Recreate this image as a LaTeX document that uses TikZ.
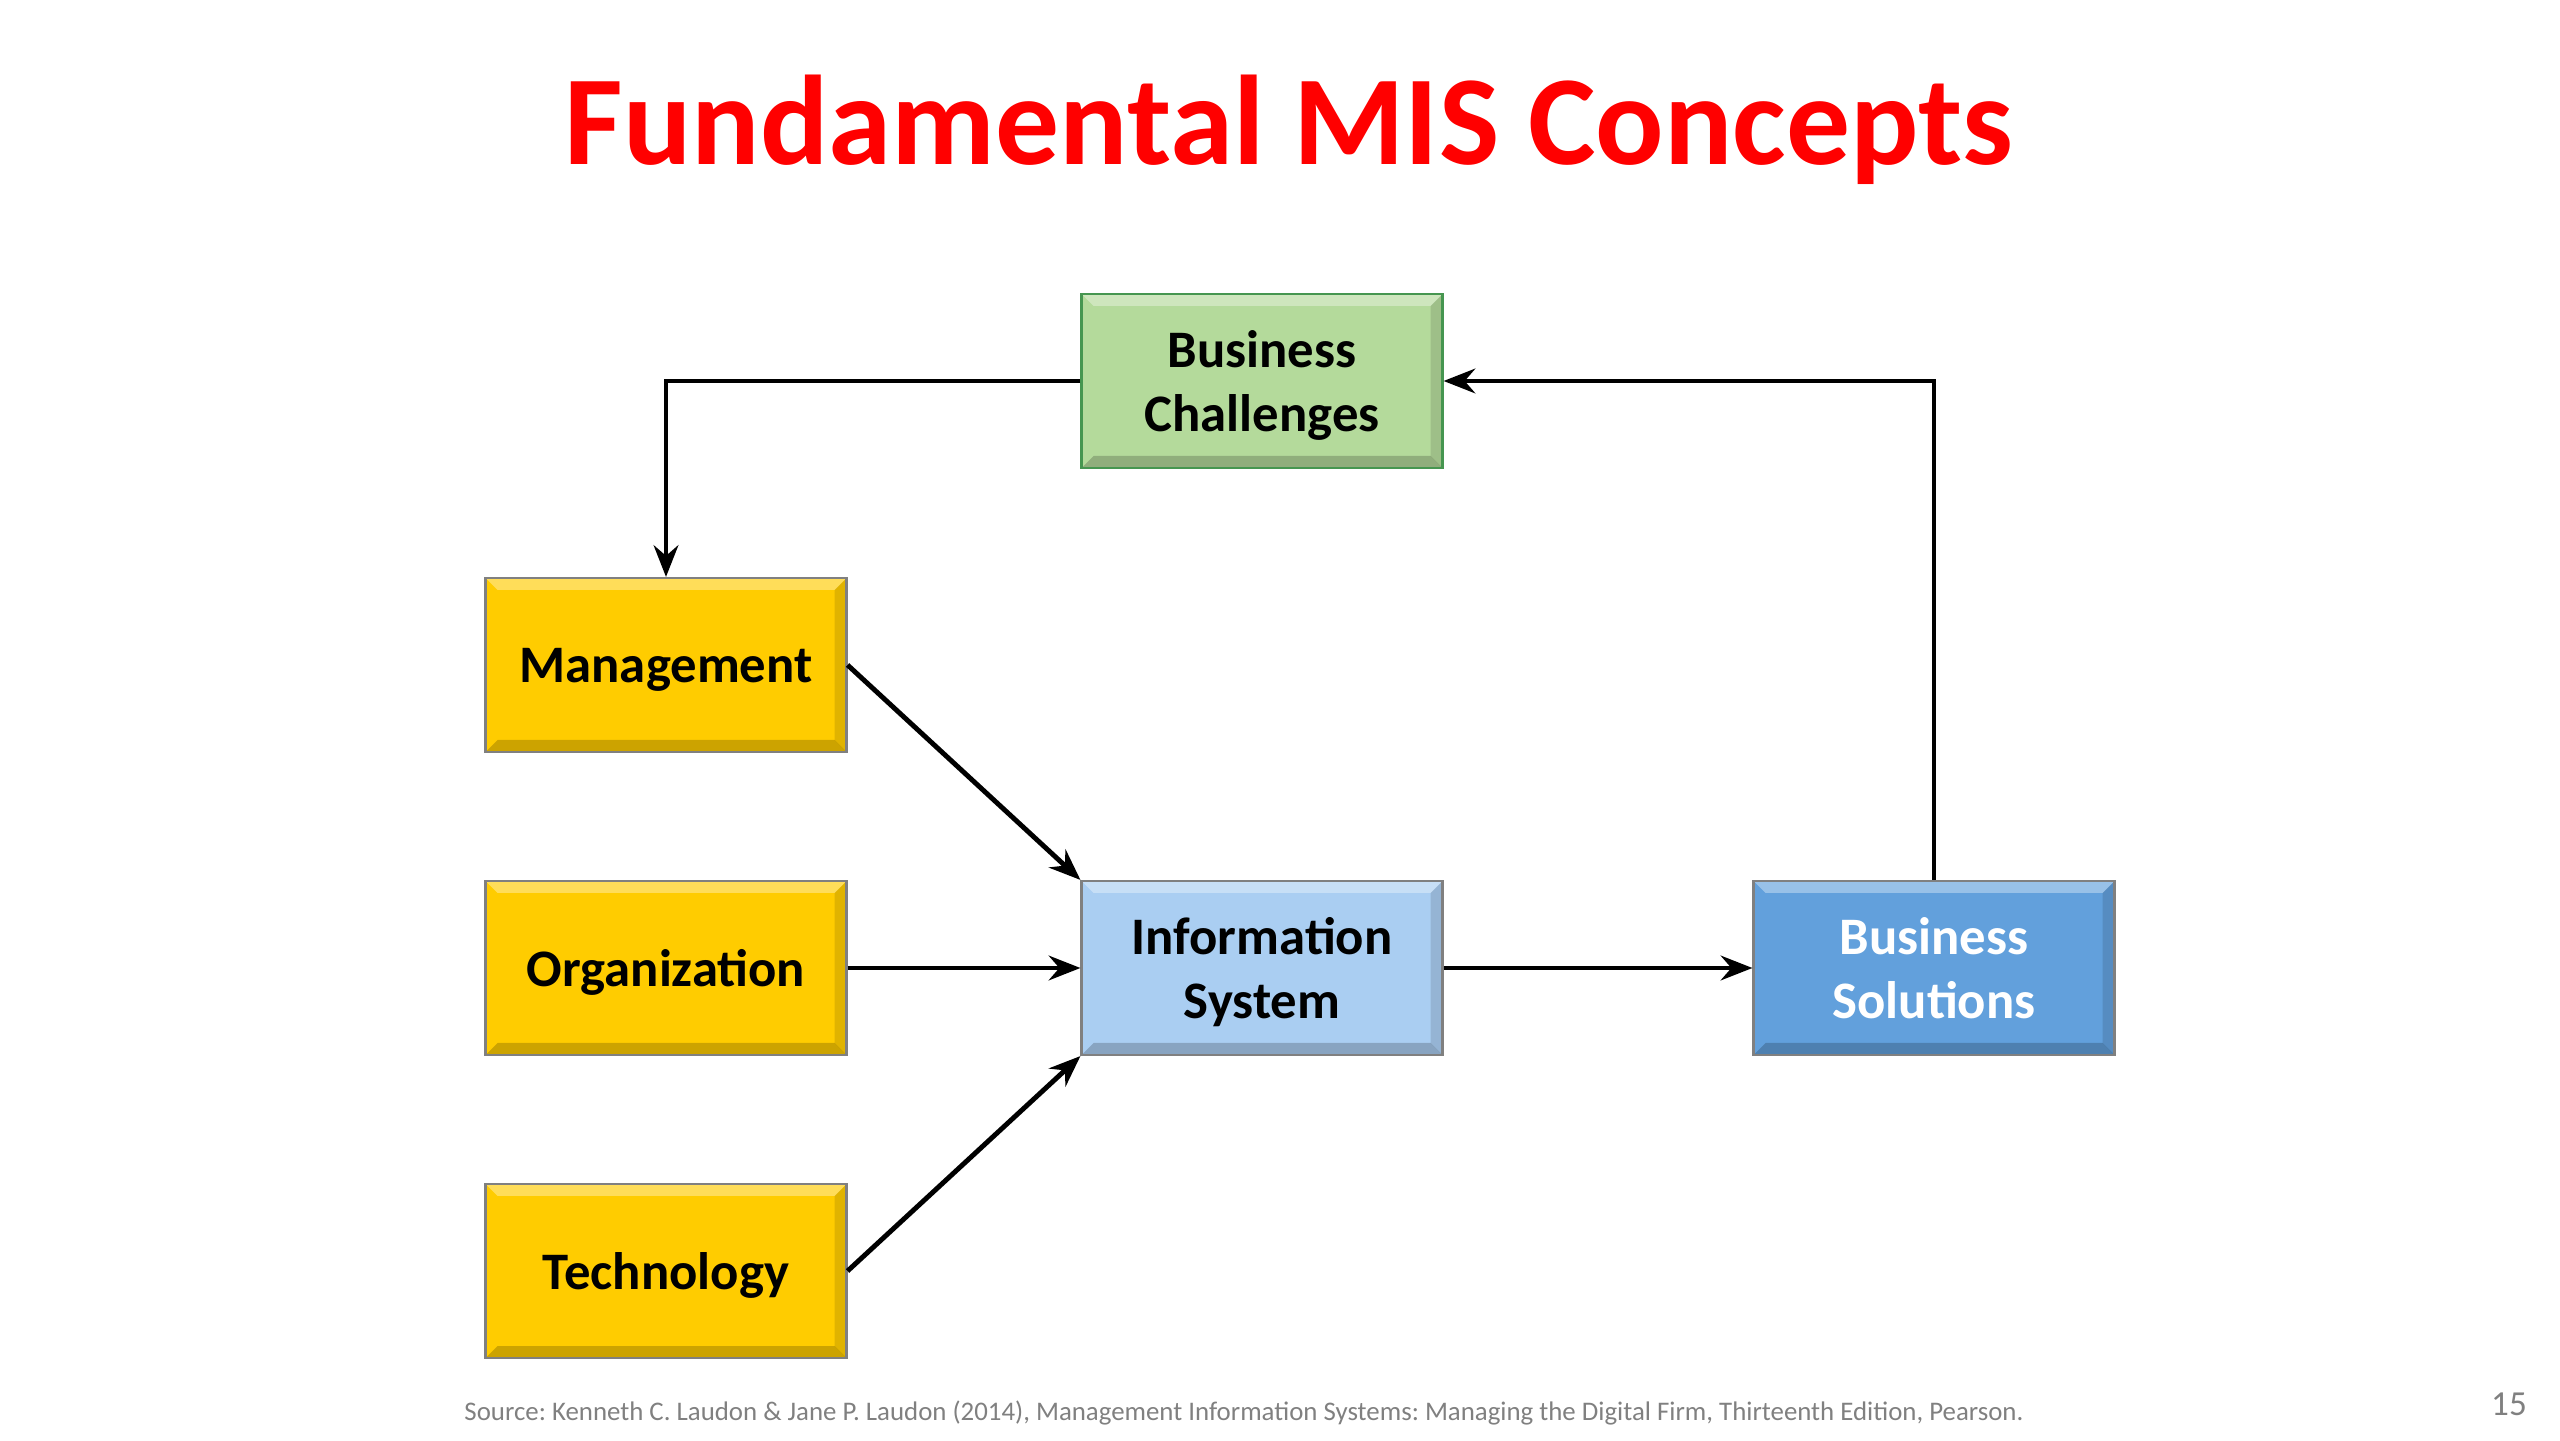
\documentclass[tikz,border=0pt]{standalone}
\usepackage{fontspec}
\setmainfont{Carlito}
\frenchspacing
\usepackage{tikz}
\usetikzlibrary{arrows.meta,shapes,positioning}
\usepackage{xcolor}
\definecolor{misred}{RGB}{255,0,0}
\definecolor{misyellow}{RGB}{255,204,0}
\definecolor{misgreen}{RGB}{180,218,155}
\definecolor{misdkgreen}{RGB}{70,150,80}
\definecolor{mislightblue}{RGB}{170,206,242}
\definecolor{misblue}{RGB}{98,160,220}
\definecolor{misgray}{RGB}{128,128,128}
\tikzstyle{arrow} = [line width=1.4pt,->,>={Stealth[length=9pt,width=7pt,inset=3pt]},color=black]
\tikzstyle{bevel} = [path picture={
  \fill[white,opacity=0.35] (path picture bounding box.north west) -- (path picture bounding box.north east) -- ++(-0.12,-0.12) -- ([shift={(0.12,-0.12)}]path picture bounding box.north west) -- cycle;
  \fill[black,opacity=0.2] (path picture bounding box.south west) -- (path picture bounding box.south east) -- ++(-0.12,0.12) -- ([shift={(0.12,0.12)}]path picture bounding box.south west) -- cycle;
  \fill[black,opacity=0.12] (path picture bounding box.south east) -- (path picture bounding box.north east) -- ++(-0.12,-0.12) -- ([shift={(-0.12,0.12)}]path picture bounding box.south east) -- cycle;
}]
\tikzstyle{misbox} = [rectangle, bevel, minimum width=3.61cm, minimum height=1.74cm, inner sep=0pt, text depth=0pt, align=center, draw=misgray, line width=0.6pt, font=\fontsize{15}{18.4}\selectfont\bfseries]

\begin{document}
\begin{tikzpicture}
\useasboundingbox (0,0) rectangle (25.6,14.4);
% Title
\node[anchor=base, text=misred, font=\fontsize{36.3}{43}\selectfont\bfseries] (title) at (12.89,12.75) {Fundamental MIS Concepts};

% Inputs
\node[misbox, fill=misyellow] (mgmt) at (6.66,7.75) {Management};
\node[misbox, fill=misyellow] (org) at (6.66,4.72) {Organization};
\node[misbox, fill=misyellow] (tech) at (6.66,1.69) {Technology};

% Cycle
\node[misbox, fill=misgreen, draw=misdkgreen] (bc) at (12.62,10.59) {Business\\Challenges};
\node[misbox, fill=mislightblue] (is) at (12.62,4.72) {Information\\System};
\node[misbox, fill=misblue, text=white] (bs) at (19.34,4.72) {Business\\Solutions};

% Arrows
\draw[arrow] (bc.west) -| (mgmt.north);
\draw[arrow] (mgmt.east) -- (is.north west);
\draw[arrow] (org) -- (is);
\draw[arrow] (tech.east) -- (is.south west);
\draw[arrow] (is) -- (bs);
\draw[arrow] (bs.north) |- (bc.east);

% Footer
\node[anchor=base, text=misgray, font=\fontsize{7.64}{9}\selectfont] (source) at (12.44,0.20) {Source: Kenneth C. Laudon \& Jane P. Laudon (2014), Management Information Systems: Managing the Digital Firm, Thirteenth Edition, Pearson.};
\node[anchor=base, text=misgray, font=\fontsize{10}{12}\selectfont] (pagenum) at (25.09,0.25) {15};
\end{tikzpicture}
\end{document}
